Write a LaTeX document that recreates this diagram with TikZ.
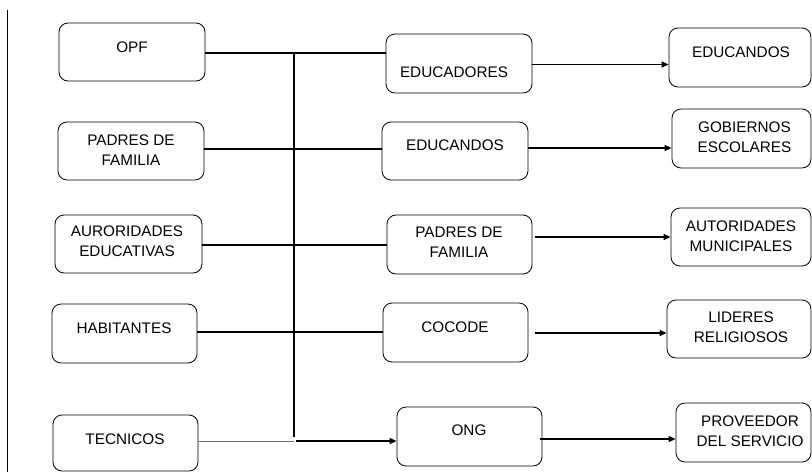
\documentclass[tikz,border=0pt]{standalone}
\usepackage{fontspec}
\setmainfont{Liberation Sans}
\usetikzlibrary{arrows.meta}
\begin{document}
\begin{tikzpicture}[x=1pt,y=-1pt,
  box/.style={draw=black,line width=0.8pt,rounded corners=9pt,inner sep=0pt},
  txt/.style={inner sep=0pt,align=center,font=\fontsize{15.3}{20}\selectfont},
  conn/.style={line width=1.3pt,black},
  arr/.style={line width=1.3pt,black,-{Triangle[length=7pt,width=6pt]}},
  thin/.style={line width=0.8pt,black!55}]
\useasboundingbox (0,0) rectangle (812,472);
% left margin line
\coordinate (mt) at (7,10);
\coordinate (mb) at (7,472);
\draw[line width=0.8pt] (mt) -- (mb);
% left boxes
\node[box,minimum width=146pt,minimum height=58pt] (opf) at (132,52) {};
\node[txt] (opft) at (132,47) {OPF};
\node[box,minimum width=146pt,minimum height=58pt] (pad) at (131,151) {};
\node[txt] (padt) at (131,150) {PADRES DE\\FAMILIA};
\node[box,minimum width=147pt,minimum height=58pt] (aut1) at (128.5,244) {};
\node[txt] (aut1t) at (127,241) {AURORIDADES\\EDUCATIVAS};
\node[box,minimum width=145pt,minimum height=59pt] (hab) at (124.5,333.5) {};
\node[txt] (habt) at (124,328) {HABITANTES};
\node[box,minimum width=145pt,minimum height=56pt] (tec) at (125.5,443) {};
\node[txt] (tect) at (125,439) {TECNICOS};
% middle boxes
\node[box,minimum width=146pt,minimum height=59pt] (edu) at (459,63.5) {};
\node[txt] (edut) at (454,72) {EDUCADORES};
\node[box,minimum width=146pt,minimum height=58pt] (edc) at (455,151) {};
\node[txt] (edct) at (455,145) {EDUCANDOS};
\node[box,minimum width=145pt,minimum height=59pt] (pad2) at (459.5,244.5) {};
\node[txt] (pad2t) at (459,242.5) {PADRES DE\\FAMILIA};
\node[box,minimum width=145pt,minimum height=59pt] (coc) at (455.5,332.5) {};
\node[txt] (coct) at (455,327) {COCODE};
\node[box,minimum width=145pt,minimum height=59pt] (ong) at (469.5,436.5) {};
\node[txt] (ongt) at (469,430) {ONG};
% right boxes
\node[box,minimum width=142pt,minimum height=59pt] (edc2) at (740,57.5) {};
\node[txt] (edc2t) at (741,52) {EDUCANDOS};
\node[box,minimum width=139pt,minimum height=59pt] (gob) at (741.5,138.5) {};
\node[txt] (gobt) at (744.5,137) {GOBIERNOS\\ESCOLARES};
\node[box,minimum width=140pt,minimum height=58pt] (mun) at (741,237) {};
\node[txt] (munt) at (741,236) {AUTORIDADES\\MUNICIPALES};
\node[box,minimum width=144pt,minimum height=58pt] (lid) at (739,329) {};
\node[txt] (lidt) at (741,327) {LIDERES\\RELIGIOSOS};
\node[box,minimum width=135pt,minimum height=59pt] (prov) at (743.5,432.5) {};
\node[txt] (provt) at (750,431) {PROVEEDOR\\DEL SERVICIO};
% bus
\coordinate (bt) at (294,53);
\coordinate (bb) at (294,437);
\draw[conn] (bt) -- (bb);
% left to middle
\draw[conn] (opf.east |- bt) -- (edu.west |- bt);
\coordinate (y2) at (294,149);
\draw[conn] (pad.east |- y2) -- (edc.west |- y2);
\coordinate (y3) at (294,245);
\draw[conn] (aut1.east |- y3) -- (pad2.west |- y3);
\coordinate (y4) at (294,332);
\draw[conn] (hab.east |- y4) -- (coc.west |- y4);
\coordinate (y5) at (294,441);
\coordinate (y5b) at (296,441);
\draw[thin] (tec.east |- y5) -- (y5);
\draw[arr] (y5b) -- (ong.west |- y5b);
% middle to right
\coordinate (r1) at (532,64.5);
\draw[arr] (edu.east |- r1) -- (edc2.west |- r1);
\coordinate (r2) at (532,148);
\draw[arr] (edc.east |- r2) -- (gob.west |- r2);
\coordinate (r3) at (535,237);
\draw[arr] (r3) -- (mun.west |- r3);
\coordinate (r4) at (535,333);
\draw[arr] (r4) -- (lid.west |- r4);
\coordinate (r5) at (540,439);
\draw[arr] (r5) -- (prov.west |- r5);
\end{tikzpicture}
\end{document}
